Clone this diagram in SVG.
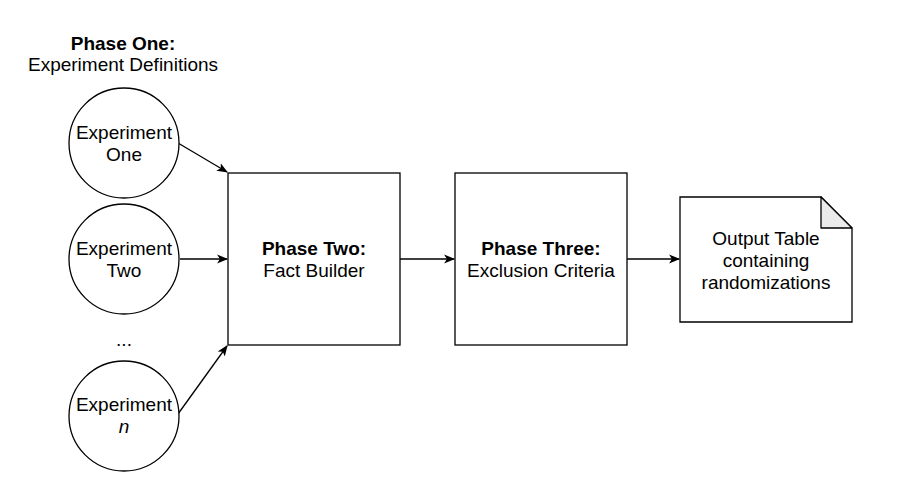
<svg xmlns="http://www.w3.org/2000/svg" width="924" height="502" viewBox="0 0 924 502">
<defs>
<style>
text{font-family:"Liberation Sans",Arial,sans-serif;font-size:19px;fill:#000;text-anchor:middle}
.b{font-weight:bold}
.shape{fill:#fff;stroke:#000;stroke-width:1.3}
.edge{fill:none;stroke:#000;stroke-width:1.3}
</style>
<marker id="arr" viewBox="0 0 10 10" refX="9" refY="5" markerWidth="11" markerHeight="11" markerUnits="userSpaceOnUse" orient="auto">
<path d="M0,1 L10,5 L0,9 L2.5,5 Z" fill="#000"/>
</marker>
</defs>
<rect width="924" height="502" fill="#fff"/>
<g id="title">
<text x="123" y="50" class="b">Phase One:</text>
<text x="123" y="71">Experiment Definitions</text>
</g>
<g id="connectors">
<line class="edge" x1="178" y1="143" x2="227" y2="172" marker-end="url(#arr)"/>
<line class="edge" x1="180" y1="259" x2="227" y2="259" marker-end="url(#arr)"/>
<line class="edge" x1="178" y1="414" x2="227" y2="346" marker-end="url(#arr)"/>
<line class="edge" x1="400" y1="259" x2="454" y2="259" marker-end="url(#arr)"/>
<line class="edge" x1="627" y1="259" x2="679" y2="259" marker-end="url(#arr)"/>
</g>
<g id="exp1">
<circle class="shape" cx="124" cy="143" r="55"/>
<text x="124" y="139">Experiment</text>
<text x="124" y="161">One</text>
</g>
<g id="exp2">
<circle class="shape" cx="124" cy="259" r="55"/>
<text x="124" y="255">Experiment</text>
<text x="124" y="277">Two</text>
</g>
<g id="dots">
<text x="124" y="346">...</text>
</g>
<g id="expn">
<circle class="shape" cx="124" cy="416" r="55"/>
<text x="124" y="411">Experiment</text>
<text x="124" y="433" font-style="italic">n</text>
</g>
<g id="phase2">
<rect class="shape" x="228" y="173" width="172" height="172"/>
<text x="314" y="255" class="b">Phase Two:</text>
<text x="314" y="277">Fact Builder</text>
</g>
<g id="phase3">
<rect class="shape" x="455" y="173" width="172" height="172"/>
<text x="541" y="255" class="b">Phase Three:</text>
<text x="541" y="277">Exclusion Criteria</text>
</g>
<g id="output">
<path class="shape" d="M680,197 H821 L852,228 V322 H680 Z"/>
<path d="M821,197 V228 H852 Z" fill="#ebebeb" stroke="#000" stroke-width="1.3" stroke-linejoin="round"/>
<text x="766" y="245">Output Table</text>
<text x="766" y="267">containing</text>
<text x="766" y="289">randomizations</text>
</g>
</svg>
